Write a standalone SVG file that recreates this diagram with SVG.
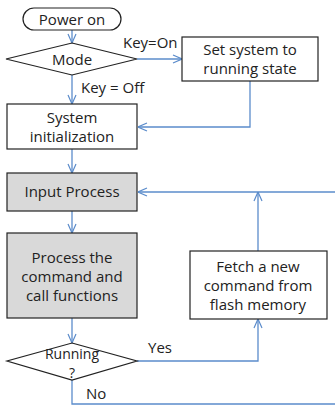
<svg xmlns="http://www.w3.org/2000/svg" width="335" height="409" viewBox="0 0 335 409">
<style>
.box{fill:#fff;stroke:#222;stroke-width:1.2}
.gray{fill:#d9d9d9;stroke:#222;stroke-width:1.2}
.t{font-family:"Open Sans","Liberation Sans",sans-serif;font-size:15px;fill:#222;text-anchor:middle}
.l{font-family:"Open Sans","Liberation Sans",sans-serif;font-size:15px;fill:#222}
.s{font-size:14px}
.c{fill:none;stroke:#5b8ccb;stroke-width:1.3}
</style>
<defs>
<marker id="a" viewBox="0 0 10 10" refX="10" refY="5" markerWidth="10" markerHeight="10" markerUnits="userSpaceOnUse" orient="auto">
<path d="M1,1 L10,5 L1,9" fill="none" stroke="#5b8ccb" stroke-width="1.2"/>
</marker>
</defs>
<g id="connectors">
<path class="c" d="M72,30 V43" marker-end="url(#a)"/>
<path class="c" d="M137,59 H182" marker-end="url(#a)"/>
<path class="c" d="M72,75 V104" marker-end="url(#a)"/>
<path class="c" d="M250,81 V127 H138" marker-end="url(#a)"/>
<path class="c" d="M72,149 V173" marker-end="url(#a)"/>
<path class="c" d="M72,211 V233" marker-end="url(#a)"/>
<path class="c" d="M72,318 V343" marker-end="url(#a)"/>
<path class="c" d="M137,361 H258 V319" marker-end="url(#a)"/>
<path class="c" d="M258,251 V192" marker-end="url(#a)"/>
<path class="c" d="M335,192 H138" marker-end="url(#a)"/>
<path class="c" d="M72,380 V404 H335"/>
</g>
<g id="power-on">
<rect class="box" x="23" y="8" width="98" height="22" rx="11"/>
<text class="t" x="72" y="24.5">Power on</text>
</g>
<g id="mode">
<polygon class="box" points="72,43 137,59 72,75 6,59"/>
<text class="t" x="72" y="64.5">Mode</text>
</g>
<g id="set-running">
<rect class="box" x="182" y="37" width="136" height="44"/>
<text class="t" x="250" y="55">Set system to</text>
<text class="t" x="250" y="74">running state</text>
</g>
<g id="sys-init">
<rect class="box" x="7" y="104" width="130" height="45"/>
<text class="t" x="72" y="123">System</text>
<text class="t" x="72" y="142">initialization</text>
</g>
<g id="input-process">
<rect class="gray" x="7" y="173" width="130" height="38"/>
<text class="t" x="72" y="197">Input Process</text>
</g>
<g id="process-command">
<rect class="gray" x="7" y="233" width="130" height="85"/>
<text class="t" x="72" y="263">Process the</text>
<text class="t" x="72" y="282">command and</text>
<text class="t" x="72" y="301">call functions</text>
</g>
<g id="running">
<polygon class="box" points="72,343 137,361 72,380 7,361"/>
<text class="t s" x="72" y="359">Running</text>
<text class="t s" x="72" y="378">?</text>
</g>
<g id="fetch">
<rect class="box" x="190" y="251" width="137" height="68"/>
<text class="t" x="258" y="272">Fetch a new</text>
<text class="t" x="258" y="291">command from</text>
<text class="t" x="258" y="310">flash memory</text>
</g>
<g id="labels">
<text class="l" x="123" y="48">Key=On</text>
<text class="l" x="81" y="93">Key = Off</text>
<text class="l" x="148" y="353">Yes</text>
<text class="l" x="86" y="399">No</text>
</g>
</svg>
